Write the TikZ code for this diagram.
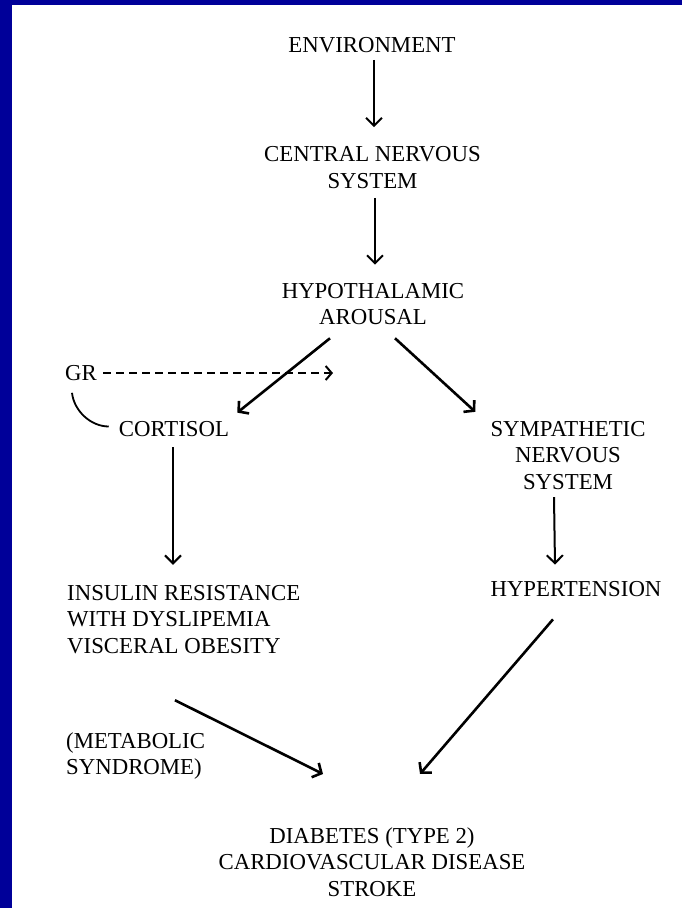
\documentclass[tikz,border=0pt]{standalone}
\usepackage{fontspec}
\setmainfont{Liberation Serif}
\usetikzlibrary{arrows.meta}
\definecolor{frameblue}{RGB}{0,0,153}
\begin{document}
\begin{tikzpicture}[x=1pt,y=-1pt,
  lbl/.style={inner sep=0pt, font=\fontsize{22.8}{26.8}\selectfont, align=center},
  lbll/.style={inner sep=0pt, font=\fontsize{22.8}{26.8}\selectfont, align=left},
  arr/.style={line width=2.6pt, -{Straight Barb[length=7pt,width=16pt]}},
  varr/.style={line width=2pt, -{Straight Barb[length=8pt,width=16pt]}},
  darr/.style={line width=2pt, dash pattern=on 8pt off 5pt, -{Straight Barb[length=6pt,width=14pt]}}]
\fill[white] (0,0) rectangle (682,908);
\fill[frameblue] (0,0) rectangle (682,5);
\fill[frameblue] (0,0) rectangle (12,908);
\useasboundingbox (0,0) rectangle (682,908);

\node[lbl] (env) at (372,45) {ENVIRONMENT};
\node[lbl] (cns) at (372.5,167.5) {CENTRAL NERVOUS\\SYSTEM};
\node[lbl] (hyp) at (373,304) {HYPOTHALAMIC\\AROUSAL};
\node[lbl] (gr) at (81,373) {GR};
\node[lbl] (cort) at (174,429.5) {CORTISOL};
\node[lbl] (sns) at (568,455.5) {SYMPATHETIC\\NERVOUS\\SYSTEM};
\node[lbl] (hyt) at (576,589.5) {HYPERTENSION};
\node[lbll, anchor=west] (ir) at (67,619.5) {INSULIN RESISTANCE\\WITH DYSLIPEMIA\\VISCERAL OBESITY};
\node[lbll, anchor=west] (met) at (66,756) {(METABOLIC\\SYNDROME)};
\node[lbl] (dia) at (372,862) {DIABETES (TYPE 2)\\CARDIOVASCULAR DISEASE\\STROKE};
\coordinate (grend) at (333,373);

\draw[varr] ([shift={(2,7)}]env.south) -- ([shift={(1.5,-19)}]cns.north);
\draw[varr] ([shift={(2.5,9)}]cns.south) -- ([shift={(2,-18)}]hyp.north);
\draw[arr] ([shift={(-43,13)}]hyp.south) -- ([shift={(8,-9)}]cort.north east);
\draw[arr] ([shift={(22,13)}]hyp.south) -- ([shift={(-15,-9)}]sns.north west);
\draw[darr] ([shift={(6,0)}]gr.east) -- (grend);
\draw[line width=1.8pt] ([shift={(-9,12)}]gr.south) .. controls ([shift={(-7,30)}]gr.south) and ([shift={(-28,-3)}]cort.west) .. ([shift={(-10,-3)}]cort.west);
\draw[varr] ([shift={(-1,10)}]cort.south) -- ([shift={(106,-20)}]ir.north west);
\draw[varr] ([shift={(-14,7)}]sns.south) -- ([shift={(-21,-17)}]hyt.north);
\draw[arr] ([shift={(108,46)}]ir.south west) -- ([shift={(-49,-53)}]dia.north);
\draw[arr] ([shift={(-23,22)}]hyt.south) -- ([shift={(48,-53)}]dia.north);
\end{tikzpicture}
\end{document}
